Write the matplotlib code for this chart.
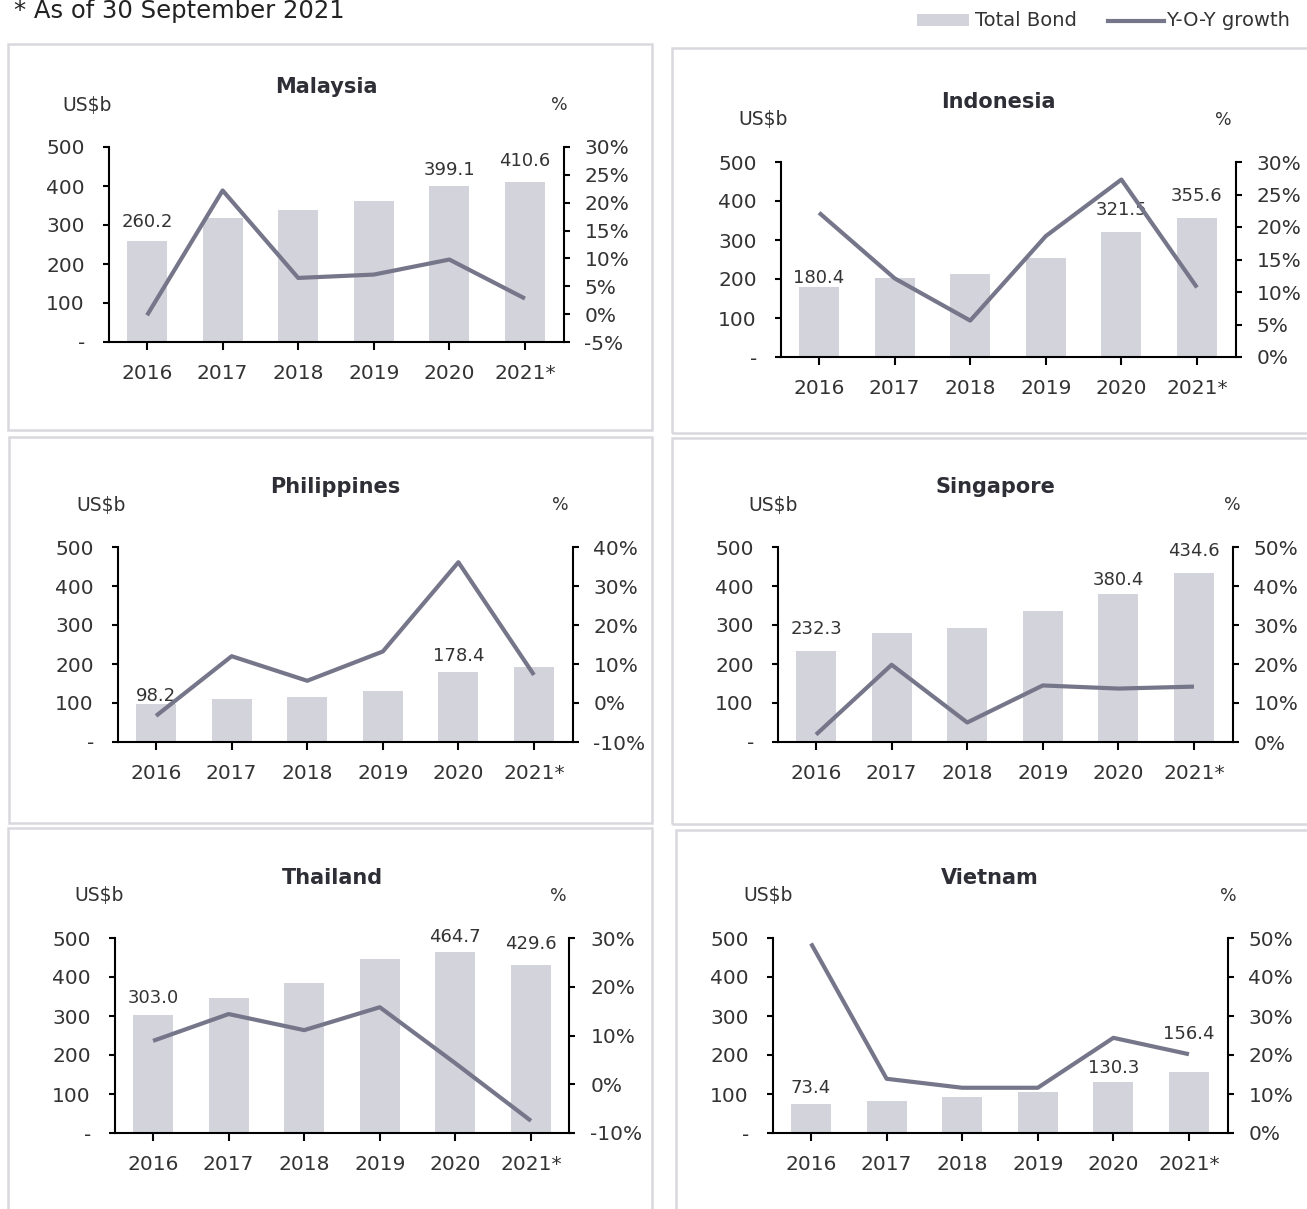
import matplotlib
matplotlib.use('Agg')
import matplotlib.pyplot as plt
import numpy as np
from matplotlib.patches import Rectangle
from matplotlib.lines import Line2D
from matplotlib.ticker import FuncFormatter

plt.rcParams['font.family'] = ['DejaVu Sans']

W, H = 1307, 1209

years = ['2016', '2017', '2018', '2019', '2020', '2021*']

# Total bond outstanding (US$b) and y-o-y growth (%)
malaysia_bond = [260.2, 318.0, 339.0, 362.0, 399.1, 410.6]
malaysia_yoy = [-0.2, 22.2, 6.5, 7.1, 9.8, 2.8]
indonesia_bond = [180.4, 202.0, 214.0, 253.0, 321.5, 355.6]
indonesia_yoy = [22.2, 12.1, 5.6, 18.6, 27.3, 10.7]
philippines_bond = [98.2, 110.6, 115.8, 132.0, 178.4, 191.3]
philippines_yoy = [-3.3, 12.0, 5.7, 13.2, 36.1, 7.2]
singapore_bond = [232.3, 278.7, 292.5, 336.0, 380.4, 434.6]
singapore_yoy = [1.9, 19.8, 5.0, 14.5, 13.7, 14.2]
thailand_bond = [303.0, 346.0, 384.0, 445.0, 464.7, 429.6]
thailand_yoy = [8.9, 14.4, 11.1, 15.8, 4.3, -7.5]
vietnam_bond = [73.4, 82.5, 93.0, 104.0, 130.3, 156.4]
vietnam_yoy = [48.6, 13.9, 11.6, 11.6, 24.4, 20.2]

BAR = '#D3D3DB'
LINE = '#76768A'
TXT = '#333333'
FRAME = '#D8D8DE'

# name, bars, growth, right-axis range, labelled bars -> offset (px above bar top)
panels = [
    ('Malaysia', malaysia_bond, malaysia_yoy, (-5, 30, 5), {0: 19, 4: 16, 5: 21}),
    ('Indonesia', indonesia_bond, indonesia_yoy, (0, 30, 5), {0: 9, 4: 22, 5: 22}),
    ('Philippines', philippines_bond, philippines_yoy, (-10, 40, 10), {0: 8, 4: 16}),
    ('Singapore', singapore_bond, singapore_yoy, (0, 50, 10), {0: 22, 4: 14, 5: 22}),
    ('Thailand', thailand_bond, thailand_yoy, (-10, 30, 10), {0: 17, 4: 15, 5: 21}),
    ('Vietnam', vietnam_bond, vietnam_yoy, (0, 50, 10), {0: 16, 4: 14, 5: 38}),
]

# pixel layout: axes (l, t, r, b), frame (l, t, r, b), x of "US$b" (left), x of "%" (centre)
layout = {
    'Malaysia': dict(ax=(108.5, 147, 563.5, 342), frame=(8, 44, 652, 430), usd=62, pct=559),
    'Indonesia': dict(ax=(780.5, 162, 1235.5, 357), frame=(672, 48, 1320, 433), usd=738, pct=1223),
    'Philippines': dict(ax=(117.5, 547, 572.5, 742), frame=(9, 437, 652, 823), usd=76, pct=560),
    'Singapore': dict(ax=(777.5, 547, 1232.5, 742), frame=(672, 438, 1320, 824), usd=748, pct=1232),
    'Thailand': dict(ax=(114.5, 938, 569.5, 1133), frame=(8, 828, 652, 1220), usd=74, pct=558),
    'Vietnam': dict(ax=(772.5, 938, 1227.5, 1133), frame=(676, 830, 1320, 1220), usd=743, pct=1228),
}


def fx(x):
    return x / W


def fy(y):
    return 1 - y / H


fig = plt.figure(figsize=(W / 100, H / 100), dpi=100)

for name, bond, yoy, (lo, hi, step), labels in panels:
    lay = layout[name]
    l, t, r, b = lay['ax']
    fl, ft, fr, fb = lay['frame']

    # light grey frame round each country
    fig.add_artist(Rectangle((fx(fl), fy(fb)), (fr - fl) / W, (fb - ft) / H,
                             transform=fig.transFigure, fill=False,
                             edgecolor=FRAME, lw=1.8, zorder=0))

    ax = fig.add_axes([fx(l), fy(b), (r - l) / W, (b - t) / H])
    ax.patch.set_visible(False)
    x = np.arange(len(years))
    ax.bar(x, bond, width=0.53, color=BAR)
    ax.set_xlim(-0.51, 5.51)
    ax.set_ylim(0, 500)
    ax.set_yticks(range(0, 501, 100))
    ax.yaxis.set_major_formatter(FuncFormatter(lambda v, p: '-' if v == 0 else f'{v:.0f}'))
    ax.set_xticks(x)
    ax.set_xticklabels(years)
    for s in ('top', 'right'):
        ax.spines[s].set_visible(False)
    for s in ('left', 'bottom'):
        ax.spines[s].set_linewidth(1.5)
    ax.tick_params(axis='y', length=4, width=1.5, pad=13, labelsize=14.5, labelcolor=TXT)
    ax.tick_params(axis='x', length=6, width=1.5, pad=10, labelsize=14.5, labelcolor=TXT)

    for i, off in labels.items():
        ax.annotate(f'{bond[i]:.1f}', (i, bond[i]), xytext=(0, off),
                    textcoords='offset pixels', ha='center', va='center',
                    fontsize=13, color=TXT)

    ax2 = ax.twinx()
    ax2.plot(x, yoy, color=LINE, lw=3, solid_capstyle='butt')
    ax2.set_ylim(lo, hi)
    ax2.set_yticks(np.arange(lo, hi + 1, step))
    ax2.yaxis.set_major_formatter(FuncFormatter(lambda v, p: f'{v:.0f}%'))
    for s in ('top', 'left', 'bottom'):
        ax2.spines[s].set_visible(False)
    ax2.spines['right'].set_linewidth(1.5)
    ax2.tick_params(axis='y', length=4, width=1.5, pad=11, labelsize=14.5, labelcolor=TXT)

    fig.text(fx((l + r) / 2 - 10), fy(t - 60), name, ha='center', va='center',
             fontsize=15, fontweight='bold', color='#2E2E36')
    fig.text(fx(lay['usd']), fy(t - 42), 'US$b', ha='left', va='center',
             fontsize=13.5, color=TXT)
    fig.text(fx(lay['pct']), fy(t - 42), '%', ha='center', va='center',
             fontsize=12.5, color=TXT)

# legend and footnote
fig.add_artist(Rectangle((fx(917), fy(26)), 52 / W, 12 / H, transform=fig.transFigure,
                         color=BAR, lw=0))
fig.text(fx(975), fy(20), 'Total Bond', ha='left', va='center', fontsize=14, color=TXT)
fig.add_artist(Line2D([fx(1108), fx(1164)], [fy(20.5), fy(20.5)], transform=fig.transFigure,
                      color=LINE, lw=3))
fig.text(fx(1166), fy(20), 'Y-O-Y growth', ha='left', va='center', fontsize=14, color=TXT)
fig.text(fx(14), fy(11), '* As of 30 September 2021', ha='left', va='center',
         fontsize=17.5, color='#222222')

fig.savefig('out.png', dpi=100)
